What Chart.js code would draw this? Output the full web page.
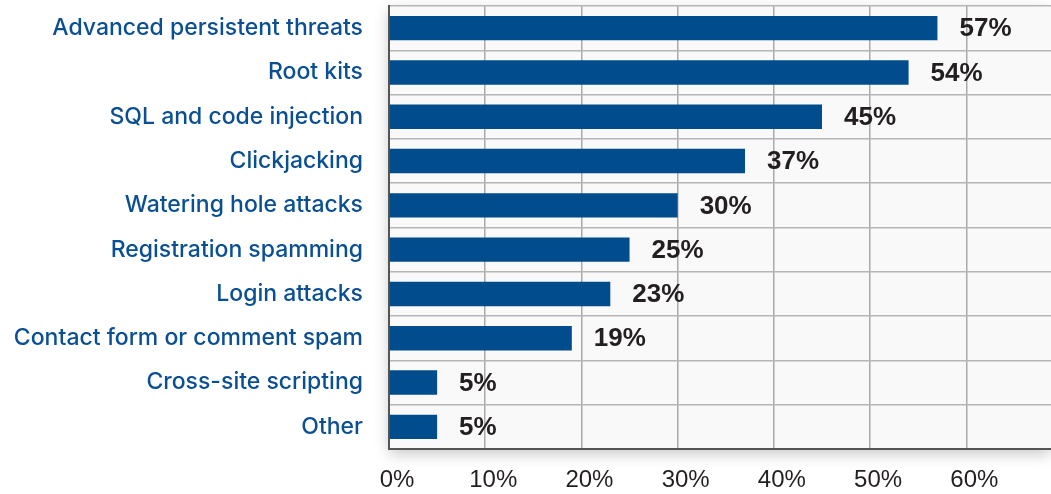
<!DOCTYPE html>
<html>
<head>
<meta charset="utf-8">
<script src="https://cdn.jsdelivr.net/npm/chart.js@4"></script>
<style>
  html, body { margin: 0; padding: 0; background: #fff; }
  #wrap { width: 1051px; height: 494px; }
</style>
</head>
<body>
<div id="wrap"><canvas id="threatChart"></canvas></div>
<script>
const categories = [
    "Advanced persistent threats",
    "Root kits",
    "SQL and code injection",
    "Clickjacking",
    "Watering hole attacks",
    "Registration spamming",
    "Login attacks",
    "Contact form or comment spam",
    "Cross-site scripting",
    "Other"
];
const percentages = [57, 54, 45, 37, 30, 25, 23, 19, 5, 5];
const tickValues = [0, 10, 20, 30, 40, 50, 60];

const plotBackground = {
    id: "plotBackground",
    beforeDraw(chart) {
        const { ctx, chartArea: a } = chart;
        ctx.save();
        ctx.shadowColor = "rgba(0,0,0,0.22)";
        ctx.shadowBlur = 14;
        ctx.shadowOffsetY = 5;
        ctx.fillStyle = "#f9f9f9";
        ctx.fillRect(a.left, a.top, a.right - a.left, a.bottom - a.top);
        ctx.restore();
    }
};

const valueLabels = {
    id: "valueLabels",
    afterDatasetsDraw(chart) {
        const ctx = chart.ctx;
        const meta = chart.getDatasetMeta(0);
        ctx.save();
        ctx.font = "bold 26px 'Liberation Sans', Arial, sans-serif";
        ctx.fillStyle = "#231f20";
        ctx.textBaseline = "middle";
        ctx.textAlign = "left";
        meta.data.forEach((bar, i) => {
            ctx.fillText(percentages[i] + "%", bar.x + 22, bar.y + 1);
        });
        ctx.restore();
    }
};

new Chart(document.getElementById("threatChart"), {
    type: "bar",
    data: {
        labels: categories,
        datasets: [{
            data: percentages,
            backgroundColor: "#004c8c",
            categoryPercentage: 1,
            barPercentage: 0.55
        }]
    },
    options: {
        indexAxis: "y",
        responsive: true,
        maintainAspectRatio: false,
        animation: false,
        layout: {
            padding: { top: 6, right: 0, left: 0, bottom: 0 }
        },
        scales: {
            x: {
                min: 0,
                max: 68.8,
                afterBuildTicks: axis => {
                    axis.ticks = tickValues.map(v => ({ value: v }));
                },
                afterFit: axis => {
                    axis.height = 45;
                    axis.paddingLeft = 0;
                    axis.paddingRight = 0;
                },
                ticks: {
                    color: "#231f20",
                    font: { family: "'Liberation Sans', Arial, sans-serif", size: 24 },
                    padding: 17,
                    labelOffset: 8,
                    callback: v => v + "%"
                },
                grid: {
                    color: "#aaaaaa",
                    lineWidth: 1.5,
                    drawTicks: false
                },
                border: { color: "#555555", width: 2 }
            },
            y: {
                afterFit: axis => {
                    axis.width = 389;
                    axis.paddingTop = 0;
                    axis.paddingBottom = 0;
                },
                ticks: {
                    color: "#0b4f93",
                    font: { family: "Inter, 'Liberation Sans', sans-serif", size: 23, weight: 500 },
                    padding: 26
                },
                grid: {
                    color: "#b5b5b5",
                    lineWidth: 1.5,
                    drawTicks: false
                },
                border: { color: "#555555", width: 2 }
            }
        },
        plugins: {
            legend: { display: false },
            tooltip: { enabled: false }
        }
    },
    plugins: [plotBackground, valueLabels]
});
</script>
</body>
</html>
